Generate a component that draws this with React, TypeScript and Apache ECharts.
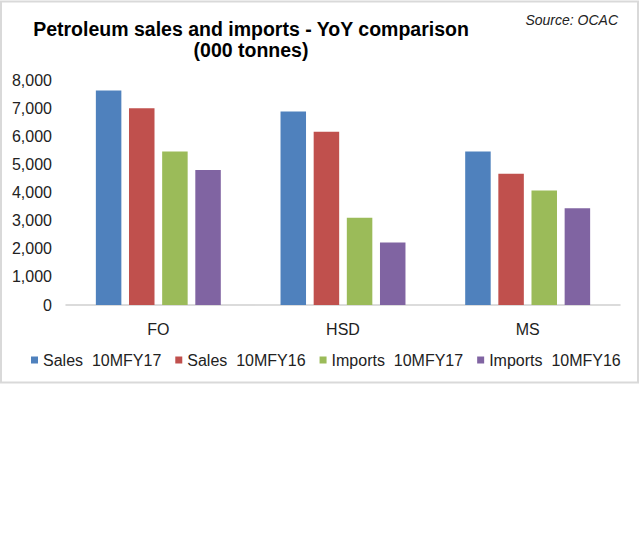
import React, { useEffect, useRef } from "react";
import * as echarts from "echarts";

const categories = ["FO", "HSD", "MS"];
const seriesNames = ["Sales  10MFY17", "Sales  10MFY16", "Imports  10MFY17", "Imports  10MFY16"];
const sales17 = [7630, 6880, 5460];
const sales16 = [7000, 6160, 4670];
const imports17 = [5460, 3100, 4070];
const imports16 = [4800, 2220, 3440];
const colors = ["#4F81BD", "#C0504D", "#9BBB59", "#8064A2"];
const yTicks = { min: 0, max: 8000, interval: 1000 };
const titleLines = ["Petroleum sales and imports - YoY comparison", "(000 tonnes)"];
const sourceText = "Source: OCAC";

const FONT = "'Liberation Sans', Arial, sans-serif";

export default function App() {
  const ref = useRef<HTMLDivElement>(null);
  useEffect(() => {
    document.body.style.margin = "0";
    const chart = echarts.init(ref.current!, null, { renderer: "svg" });
    const values = [sales17, sales16, imports17, imports16];
    chart.setOption({
      animation: false,
      backgroundColor: "#ffffff",
      textStyle: { fontFamily: FONT },
      graphic: [
        {
          type: "rect",
          z: -10,
          silent: true,
          shape: { x: 1, y: 1.5, width: 637, height: 381 },
          style: { fill: "#ffffff", stroke: "#d9d9d9", lineWidth: 2 },
        },
        {
          type: "text",
          x: 251,
          y: 29,
          style: {
            text: titleLines[0],
            textAlign: "center",
            textVerticalAlign: "middle",
            fontFamily: FONT,
            fontSize: 19.5,
            fontWeight: "bold",
            fill: "#000000",
          },
        },
        {
          type: "text",
          x: 251,
          y: 49.5,
          style: {
            text: titleLines[1],
            textAlign: "center",
            textVerticalAlign: "middle",
            fontFamily: FONT,
            fontSize: 19.5,
            fontWeight: "bold",
            fill: "#000000",
          },
        },
        {
          type: "text",
          x: 618,
          y: 20,
          style: {
            text: sourceText,
            textAlign: "right",
            textVerticalAlign: "middle",
            fontFamily: FONT,
            fontSize: 14,
            fontStyle: "italic",
            fill: "#222222",
          },
        },
      ],
      legend: {
        left: 31,
        top: 352,
        width: 620,
        padding: 0,
        itemWidth: 7,
        itemHeight: 7,
        itemGap: 14,
        icon: "rect",
        data: seriesNames,
        textStyle: { fontFamily: FONT, fontSize: 16, color: "#222222" },
      },
      grid: { left: 66, right: 20, top: 80, bottom: 240, containLabel: false },
      xAxis: {
        type: "category",
        data: categories,
        axisLine: { lineStyle: { color: "#d0d0d0", width: 1.5 } },
        axisTick: { show: false },
        axisLabel: { fontFamily: FONT, fontSize: 16, color: "#222222", margin: 16 },
      },
      yAxis: {
        type: "value",
        min: yTicks.min,
        max: yTicks.max,
        interval: yTicks.interval,
        splitLine: { show: false },
        axisLine: { show: false },
        axisTick: { show: false },
        axisLabel: {
          fontFamily: FONT,
          fontSize: 16,
          color: "#222222",
          margin: 14,
          formatter: (v: number) => v.toLocaleString("en-US"),
        },
      },
      series: seriesNames.map((name, i) => ({
        name,
        type: "bar",
        data: values[i],
        barWidth: 25.5,
        barGap: "30%",
        itemStyle: { color: colors[i] },
      })),
    });
    return () => chart.dispose();
  }, []);
  return <div ref={ref} style={{ width: 640, height: 545 }} />;
}
